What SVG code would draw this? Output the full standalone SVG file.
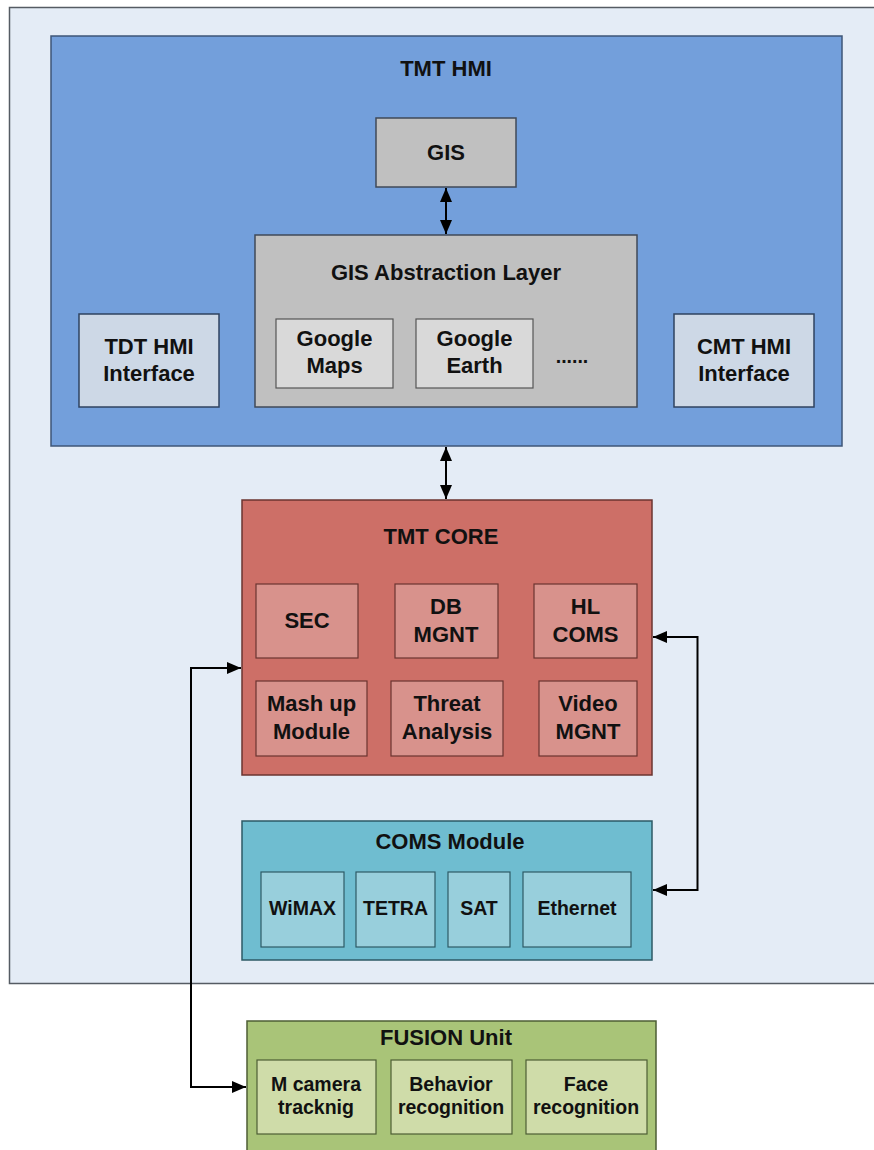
<svg xmlns="http://www.w3.org/2000/svg" width="874" height="1150" viewBox="0 0 874 1150">
  <style>
    text { font-family: "Liberation Sans", Arial, sans-serif; font-weight: bold; fill: #111; text-anchor: middle; }
    .t22 { font-size: 22px; }
    .t19 { font-size: 19.5px; }
    .frame { fill: #e4ecf6; stroke: #555b63; stroke-width: 1.5; }
    .hmi { fill: #739fdb; stroke: #3e5678; stroke-width: 1.5; }
    .gray { fill: #c0c0c0; stroke: #404a58; stroke-width: 1.5; }
    .gray2 { fill: #d9d9d9; stroke: #555; stroke-width: 1.2; }
    .iface { fill: #cdd8e6; stroke: #2f4360; stroke-width: 1.5; }
    .core { fill: #cd6f67; stroke: #6b3430; stroke-width: 1.5; }
    .core2 { fill: #d8928c; stroke: #6b3430; stroke-width: 1.2; }
    .coms { fill: #6fbdd0; stroke: #2d5a66; stroke-width: 1.5; }
    .coms2 { fill: #98cfdc; stroke: #2d5a66; stroke-width: 1.2; }
    .fus { fill: #a9c478; stroke: #4d5e35; stroke-width: 1.5; }
    .fus2 { fill: #cfdca9; stroke: #4d5e35; stroke-width: 1.2; }
    .conn { fill: none; stroke: #000; stroke-width: 2; }
  </style>
  <defs>
    <marker id="ah" viewBox="0 0 14 12" refX="14" refY="6" markerWidth="14" markerHeight="12" markerUnits="userSpaceOnUse" orient="auto-start-reverse">
      <path d="M0,0 L14,6 L0,12 Z" fill="#000"/>
    </marker>
  </defs>

  <rect width="874" height="1150" fill="#ffffff"/>

  <!-- system frame -->
  <rect id="system" class="frame" x="9.5" y="7.5" width="880" height="976"/>

  <!-- HMI layer -->
  <g id="tmt-hmi">
    <rect class="hmi" x="51" y="36" width="791" height="410"/>
    <text class="t22" x="446" y="76">TMT HMI</text>
  </g>
  <g id="gis">
    <rect class="gray" x="376" y="118" width="140" height="69"/>
    <text class="t22" x="446" y="160">GIS</text>
  </g>
  <g id="gis-abstraction">
    <rect class="gray" x="255" y="235" width="382" height="172"/>
    <text class="t22" x="446" y="280">GIS Abstraction Layer</text>
  </g>
  <g id="google-maps">
    <rect class="gray2" x="276" y="319" width="117" height="69"/>
    <text class="t22" x="334.5" y="346">Google</text>
    <text class="t22" x="334.5" y="373">Maps</text>
  </g>
  <g id="google-earth">
    <rect class="gray2" x="416" y="319" width="117" height="69"/>
    <text class="t22" x="474.5" y="346">Google</text>
    <text class="t22" x="474.5" y="373">Earth</text>
  </g>
  <g id="more-gis">
    <text class="t19" x="572" y="363">......</text>
  </g>
  <g id="tdt-hmi">
    <rect class="iface" x="79" y="314" width="140" height="93"/>
    <text class="t22" x="149" y="354">TDT HMI</text>
    <text class="t22" x="149" y="381">Interface</text>
  </g>
  <g id="cmt-hmi">
    <rect class="iface" x="674" y="314" width="140" height="93"/>
    <text class="t22" x="744" y="354">CMT HMI</text>
    <text class="t22" x="744" y="381">Interface</text>
  </g>

  <!-- core -->
  <g id="tmt-core">
    <rect class="core" x="242" y="500" width="410" height="275"/>
    <text class="t22" x="441" y="544">TMT CORE</text>
  </g>
  <g id="sec">
    <rect class="core2" x="256" y="584" width="102" height="74"/>
    <text class="t22" x="307" y="628">SEC</text>
  </g>
  <g id="db-mgnt">
    <rect class="core2" x="395" y="584" width="103" height="74"/>
    <text class="t22" x="446" y="614">DB</text>
    <text class="t22" x="446" y="642">MGNT</text>
  </g>
  <g id="hl-coms">
    <rect class="core2" x="534" y="584" width="103" height="74"/>
    <text class="t22" x="585.5" y="614">HL</text>
    <text class="t22" x="585.5" y="642">COMS</text>
  </g>
  <g id="mashup">
    <rect class="core2" x="256" y="681" width="111" height="75"/>
    <text class="t22" x="311.5" y="711">Mash up</text>
    <text class="t22" x="311.5" y="739">Module</text>
  </g>
  <g id="threat">
    <rect class="core2" x="391" y="681" width="112" height="75"/>
    <text class="t22" x="447" y="711">Threat</text>
    <text class="t22" x="447" y="739">Analysis</text>
  </g>
  <g id="video-mgnt">
    <rect class="core2" x="539" y="681" width="98" height="75"/>
    <text class="t22" x="588" y="711">Video</text>
    <text class="t22" x="588" y="739">MGNT</text>
  </g>

  <!-- communications -->
  <g id="coms-module">
    <rect class="coms" x="242" y="821" width="410" height="139"/>
    <text class="t22" x="450" y="849">COMS Module</text>
  </g>
  <g id="wimax">
    <rect class="coms2" x="261" y="872" width="83" height="75"/>
    <text class="t19" x="302.5" y="915">WiMAX</text>
  </g>
  <g id="tetra">
    <rect class="coms2" x="356" y="872" width="79" height="75"/>
    <text class="t19" x="395.5" y="915">TETRA</text>
  </g>
  <g id="sat">
    <rect class="coms2" x="448" y="872" width="62" height="75"/>
    <text class="t19" x="479" y="915">SAT</text>
  </g>
  <g id="ethernet">
    <rect class="coms2" x="523" y="872" width="108" height="75"/>
    <text class="t19" x="577" y="915">Ethernet</text>
  </g>

  <!-- fusion -->
  <g id="fusion-unit">
    <rect class="fus" x="247" y="1021" width="409" height="140"/>
    <text class="t22" x="446" y="1045">FUSION Unit</text>
  </g>
  <g id="m-camera">
    <rect class="fus2" x="257" y="1060" width="119" height="74"/>
    <text class="t19" x="316" y="1091">M camera</text>
    <text class="t19" x="316" y="1114">tracknig</text>
  </g>
  <g id="behavior">
    <rect class="fus2" x="391" y="1060" width="121" height="74"/>
    <text class="t19" x="451" y="1091">Behavior</text>
    <text class="t19" x="451" y="1114">recognition</text>
  </g>
  <g id="face">
    <rect class="fus2" x="526" y="1060" width="121" height="74"/>
    <text class="t19" x="586" y="1091">Face</text>
    <text class="t19" x="586" y="1114">recognition</text>
  </g>

  <!-- connectors -->
  <g id="connectors">
    <line class="conn" x1="446" y1="188" x2="446" y2="234" marker-start="url(#ah)" marker-end="url(#ah)"/>
    <line class="conn" x1="446" y1="447" x2="446" y2="499" marker-start="url(#ah)" marker-end="url(#ah)"/>
    <path class="conn" d="M653,637 H697.5 V890 H653" marker-start="url(#ah)" marker-end="url(#ah)"/>
    <path class="conn" d="M241,668 H191 V1087 H246" marker-start="url(#ah)" marker-end="url(#ah)"/>
  </g>
</svg>
